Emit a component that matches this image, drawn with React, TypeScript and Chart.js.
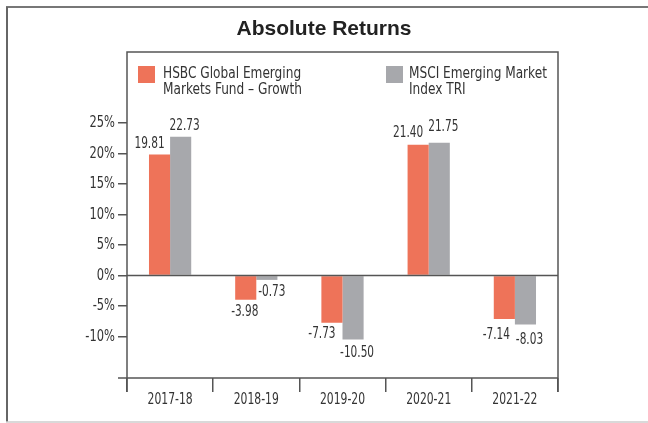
import React, { useEffect, useRef } from "react";
import { Chart, registerables } from "chart.js";

Chart.register(...registerables);

const title = "Absolute Returns";
const categories = ["2017-18", "2018-19", "2019-20", "2020-21", "2021-22"];
const fundReturns = [19.81, -3.98, -7.73, 21.4, -7.14];
const indexReturns = [22.73, -0.73, -10.5, 21.75, -8.03];
const seriesNames = [
  ["HSBC Global Emerging", "Markets Fund \u2013 Growth"],
  ["MSCI Emerging Market", "Index TRI"],
];
const yTickValues = [-10, -5, 0, 5, 10, 15, 20, 25];

// label nudges (layout only)
const fundLabelDx = [-10, -1, -10, -10, -8];
const fundLabelDy = [-10, 12, 11, -12, 16];
const indexLabelDx = [4, 5, 4, 4, 4];
const indexLabelDy = [-11, 12, 14, -16, 16];

const ORANGE = "#EE7359";
const GREY = "#A7A8AC";
const TEXT = "#333333";
const LINE = "#555555";
const COND = "'DejaVu Sans Condensed', 'Liberation Sans Narrow', Arial, sans-serif";

const W = 648;
const H = 423;
const AREA = { left: 127, top: 52, right: 558, bottom: 378 };

function narrowText(ctx: any, text: string, x: number, y: number, align: string, sx: number) {
  ctx.save();
  ctx.translate(x, y);
  ctx.scale(sx, 1);
  ctx.textAlign = align;
  ctx.fillText(text, 0, 0);
  ctx.restore();
}

const decor = {
  id: "decor",
  beforeDraw(chart: any) {
    const ctx = chart.ctx;
    ctx.save();
    ctx.fillStyle = "#ffffff";
    ctx.fillRect(0, 0, W, H);
    // outer frame
    ctx.strokeStyle = "#4a4a4a";
    ctx.lineWidth = 1.5;
    ctx.beginPath();
    ctx.moveTo(6, 7);
    ctx.lineTo(W, 7);
    ctx.stroke();
    ctx.strokeStyle = "#666666";
    ctx.lineWidth = 2;
    ctx.beginPath();
    ctx.moveTo(7, 7);
    ctx.lineTo(7, 422);
    ctx.stroke();
    ctx.strokeStyle = "#cccccc";
    ctx.lineWidth = 1.5;
    ctx.beginPath();
    ctx.moveTo(6, 422);
    ctx.lineTo(W, 422);
    ctx.stroke();
    // title
    ctx.fillStyle = "#222222";
    ctx.font = "bold 21px 'Liberation Sans', Arial, sans-serif";
    ctx.textAlign = "center";
    ctx.textBaseline = "alphabetic";
    ctx.fillText(title, W / 2, 34.5);
    ctx.restore();
  },
  afterDatasetsDraw(chart: any) {
    const ctx = chart.ctx;
    const { left, right, top, bottom } = chart.chartArea;
    const y = chart.scales.y;
    const x = chart.scales.x;
    ctx.save();
    ctx.strokeStyle = LINE;
    ctx.lineWidth = 1.5;
    // zero line
    const y0 = y.getPixelForValue(0);
    ctx.beginPath();
    ctx.moveTo(left, y0);
    ctx.lineTo(right, y0);
    ctx.stroke();
    // box
    ctx.beginPath();
    ctx.moveTo(left, bottom + 14);
    ctx.lineTo(left, top);
    ctx.lineTo(right, top);
    ctx.lineTo(right, bottom + 14);
    ctx.stroke();
    // bottom axis
    ctx.beginPath();
    ctx.moveTo(left - 9, bottom);
    ctx.lineTo(right, bottom);
    ctx.stroke();

    ctx.fillStyle = TEXT;
    ctx.font = "15px " + COND;
    ctx.textBaseline = "middle";
    // y tick labels
    yTickValues.forEach((v) => {
      narrowText(ctx, `${v}%`, 115, y.getPixelForValue(v) + 0.5, "right", 0.85);
    });
    // x tick labels
    categories.forEach((c, i) => {
      narrowText(ctx, c, x.getPixelForValue(i), 400, "center", 0.8);
    });

    // data labels
    const dxs = [fundLabelDx, indexLabelDx];
    const dys = [fundLabelDy, indexLabelDy];
    chart.data.datasets.forEach((ds: any, di: number) => {
      const meta = chart.getDatasetMeta(di);
      meta.data.forEach((bar: any, i: number) => {
        const v = ds.data[i];
        narrowText(ctx, v.toFixed(2), bar.x + dxs[di][i], bar.y + dys[di][i], "center", 0.78);
      });
    });

    // legend
    const colors = [ORANGE, GREY];
    const sqX = [138, 386];
    const txX = [163, 409];
    ctx.textBaseline = "alphabetic";
    for (let k = 0; k < 2; k++) {
      ctx.fillStyle = colors[k];
      ctx.fillRect(sqX[k], 66, 17, 17);
      ctx.fillStyle = TEXT;
      seriesNames[k].forEach((line, li) => {
        narrowText(ctx, line, txX[k], 77.5 + li * 16, "left", 0.9);
      });
    }
    ctx.restore();
  },
};

export default function App() {
  const ref = useRef<HTMLCanvasElement | null>(null);
  useEffect(() => {
    if (!ref.current) return;
    const chart = new Chart(ref.current, {
      type: "bar",
      data: {
        labels: categories,
        datasets: [
          {
            label: seriesNames[0].join(" "),
            data: fundReturns,
            backgroundColor: ORANGE,
            barPercentage: 1,
            categoryPercentage: 0.49,
          },
          {
            label: seriesNames[1].join(" "),
            data: indexReturns,
            backgroundColor: GREY,
            barPercentage: 1,
            categoryPercentage: 0.49,
          },
        ],
      },
      options: {
        responsive: false,
        animation: false,
        devicePixelRatio: 1,
        layout: { padding: { left: 0, top: AREA.top, right: W - AREA.right, bottom: 0 } },
        plugins: {
          legend: { display: false },
          title: { display: false },
          tooltip: { enabled: false },
        },
        scales: {
          x: {
            offset: true,
            grid: {
              display: true,
              offset: true,
              drawOnChartArea: false,
              drawTicks: true,
              tickLength: 14,
              color: LINE,
              lineWidth: 1.5,
            },
            border: { display: false },
            ticks: {
              color: "rgba(0,0,0,0)",
              padding: 0,
              font: { family: COND, size: 15 },
            },
            afterFit: (s: any) => {
              s.height = H - AREA.bottom;
            },
          },
          y: {
            min: -16.8,
            max: 36.6,
            afterBuildTicks: (s: any) => {
              s.ticks = yTickValues.map((v) => ({ value: v }));
            },
            grid: {
              display: true,
              drawOnChartArea: false,
              drawTicks: true,
              tickLength: 9,
              color: LINE,
              lineWidth: 1.5,
            },
            border: { display: false },
            ticks: {
              color: "rgba(0,0,0,0)",
              padding: 3,
              font: { family: COND, size: 15 },
              callback: (v: any) => `${v}%`,
            },
            afterFit: (s: any) => {
              s.width = AREA.left;
            },
          },
        },
      },
      plugins: [decor],
    });
    return () => chart.destroy();
  }, []);
  return (
    <div style={{ position: "fixed", left: 0, top: 0, width: W, height: H, background: "#fff" }}>
      <canvas ref={ref} width={W} height={H} style={{ width: W, height: H, display: "block" }} />
    </div>
  );
}
